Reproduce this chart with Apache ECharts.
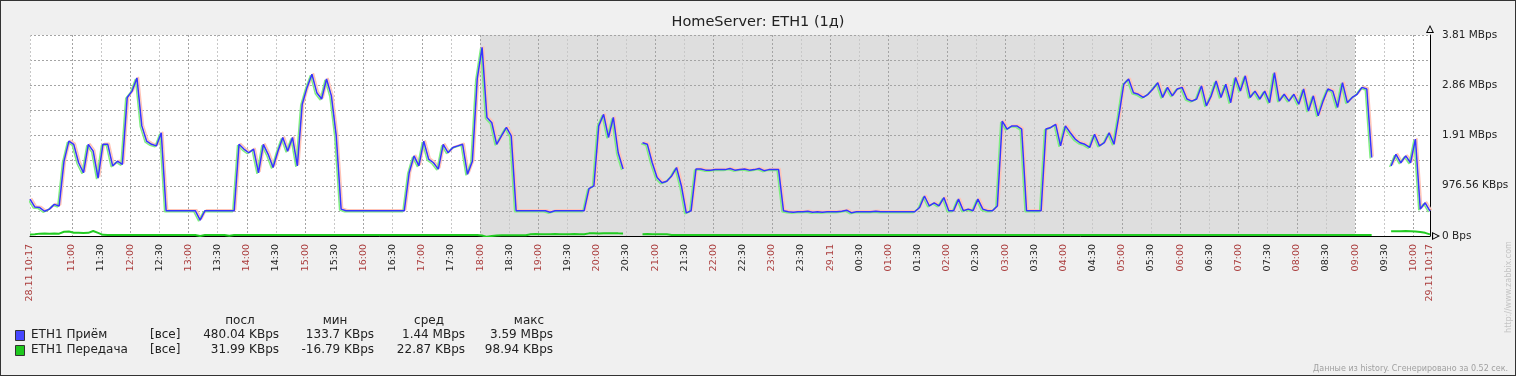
<!DOCTYPE html>
<html><head><meta charset="utf-8">
<script src="https://cdn.jsdelivr.net/npm/echarts@6/dist/echarts.min.js"></script>
<style>
html,body{margin:0;padding:0;background:#f0f0f0}
#c{width:1516px;height:376px;box-sizing:border-box;border:1px solid #333;background:#f0f0f0}
</style>
</head><body><div id="c"></div>
<script>
// ---------------- DATA ----------------
const chartTitle = 'HomeServer: ETH1 (1д)';
const START_MIN = 10 * 60 + 17;      // 28.11 10:17
const STEP_MIN = 5;                  // sample step, minutes
const xTickLabels = ['28.11 10:17','11:00','11:30','12:00','12:30','13:00','13:30','14:00','14:30','15:00','15:30',
  '16:00','16:30','17:00','17:30','18:00','18:30','19:00','19:30','20:00','20:30','21:00','21:30','22:00','22:30',
  '23:00','23:30','29.11','00:30','01:00','01:30','02:00','02:30','03:00','03:30','04:00','04:30','05:00','05:30',
  '06:00','06:30','07:00','07:30','08:00','08:30','09:00','09:30','10:00','29.11 10:17'];
const offHours = ['18:00', '09:00'];  // shaded (non-working) period
// ETH1 Приём, MBps
const rxMBps = [
  0.70,0.55,0.54,0.47,0.51,0.60,0.57,1.42,1.80,1.74,
  1.39,1.20,1.74,1.61,1.10,1.74,1.74,1.33,1.42,1.36,
  2.63,2.75,3.00,2.09,1.80,1.74,1.71,1.96,0.48,0.48,
  0.48,0.48,0.48,0.48,0.48,0.30,0.48,0.48,0.48,0.48,
  0.48,0.48,0.48,1.74,1.65,1.58,1.65,1.20,1.74,1.55,
  1.30,1.61,1.87,1.61,1.87,1.33,2.50,2.82,3.07,2.72,
  2.60,2.98,2.66,1.90,0.51,0.48,0.48,0.48,0.48,0.48,
  0.48,0.48,0.48,0.48,0.48,0.48,0.48,0.48,1.20,1.52,
  1.33,1.80,1.46,1.39,1.27,1.74,1.58,1.68,1.71,1.74,
  1.17,1.42,2.98,3.58,2.25,2.15,1.74,1.90,2.06,1.90,
  0.48,0.48,0.48,0.48,0.48,0.48,0.48,0.45,0.48,0.48,
  0.48,0.48,0.48,0.48,0.48,0.90,0.95,2.09,2.31,1.87,
  2.25,1.58,1.27,null,null,null,1.77,1.74,1.39,1.11,
  1.01,1.04,1.14,1.30,0.95,0.44,0.48,1.27,1.27,1.25,
  1.25,1.26,1.26,1.26,1.28,1.25,1.26,1.27,1.25,1.26,
  1.28,1.24,1.26,1.26,1.26,0.48,0.46,0.45,0.46,0.46,
  0.47,0.45,0.46,0.45,0.46,0.46,0.46,0.47,0.49,0.44,
  0.46,0.46,0.46,0.46,0.47,0.46,0.46,0.46,0.46,0.46,
  0.46,0.46,0.46,0.54,0.76,0.57,0.63,0.57,0.73,0.48,
  0.48,0.70,0.48,0.51,0.48,0.70,0.51,0.48,0.48,0.57,
  2.18,2.03,2.09,2.09,2.03,0.48,0.48,0.48,0.48,2.03,
  2.06,2.12,1.71,2.09,1.96,1.84,1.77,1.74,1.68,1.93,
  1.71,1.77,1.96,1.74,2.28,2.88,2.98,2.72,2.69,2.63,
  2.69,2.79,2.91,2.63,2.82,2.66,2.79,2.82,2.60,2.56,
  2.60,2.85,2.47,2.66,2.94,2.63,2.88,2.53,3.01,2.75,
  3.04,2.63,2.75,2.60,2.75,2.53,3.10,2.56,2.69,2.56,
  2.69,2.50,2.79,2.37,2.66,2.28,2.56,2.79,2.75,2.44,
  2.91,2.53,2.63,2.69,2.82,2.79,1.49,null,null,null,
  1.33,1.55,1.39,1.52,1.39,1.84,0.51,0.63,0.47
];
// ETH1 Передача, MBps
const txMBps = [
  0.030,0.032,0.045,0.046,0.044,0.047,0.045,0.080,0.085,0.060,0.062,0.058,0.060,0.095,0.060,
  0.022,0.021,0.020,0.020,0.019,0.020,0.021,0.020,0.020,0.019,
  0.020,0.021,0.020,0.020,0.019,0.020,0.020,0.021,0.020,0.020,
  0.002,0.020,0.021,0.020,0.019,0.020,0.005,0.020,0.020,0.021,
  0.020,0.019,0.020,0.020,0.021,0.020,0.020,0.019,0.020,0.020,
  0.021,0.020,0.020,0.019,0.020,0.020,0.021,0.020,0.020,0.019,
  0.020,0.020,0.021,0.020,0.020,0.019,0.020,0.020,0.021,0.020,
  0.020,0.019,0.020,0.020,0.021,0.020,0.020,0.019,0.020,0.020,
  0.021,0.020,0.020,0.019,0.020,0.020,0.021,0.020,
  0.008,-0.016,0.002,0.010,
  0.015,0.016,0.015,0.014,0.015,0.016,
  0.035,0.036,0.034,0.035,0.035,0.036,0.034,0.035,0.035,0.036,0.035,0.034,
  0.050,0.051,0.049,0.050,0.050,0.052,0.050,0.049,
  null,null,null,
  0.035,0.036,0.035,0.034,0.035,0.035,
  0.020,0.021,0.020,0.019,0.020,0.020,0.021,0.020,0.020,0.019,
  0.020,0.020,0.021,0.020,0.020,0.019,0.020,0.020,0.021,0.020,
  0.020,0.019,0.020,0.020,0.021,0.020,0.020,0.019,0.020,0.020,
  0.021,0.020,0.020,0.019,0.020,0.020,0.021,0.020,0.020,0.019,
  0.020,0.020,0.021,0.020,0.020,0.019,0.020,0.020,0.021,0.020,
  0.020,0.019,0.020,0.020,0.021,0.020,0.020,0.019,0.020,0.020,
  0.021,0.020,0.020,0.019,0.020,0.020,0.021,0.020,0.020,0.019,
  0.020,0.020,0.021,0.020,0.020,0.019,0.020,0.020,0.021,0.020,
  0.020,0.019,0.020,0.020,0.021,0.020,0.020,0.019,0.020,0.020,
  0.021,0.020,0.020,0.019,0.020,0.020,0.021,0.020,0.020,0.019,
  0.020,0.020,0.021,0.020,0.020,0.019,0.020,0.020,0.021,0.020,
  0.020,0.019,0.020,0.020,0.021,0.020,0.020,0.019,0.020,0.020,
  0.021,0.020,0.020,0.019,0.020,0.020,0.021,0.020,0.020,0.019,
  0.020,0.020,0.021,0.020,0.020,0.019,0.020,0.020,0.021,0.020,
  0.020,0.019,0.020,0.020,0.021,
  null,null,null,
  0.090,0.092,0.088,0.095,0.090,0.085,0.075,0.060,0.031
];
const legendNames = ['ETH1 Приём', 'ETH1 Передача'];
const legendFunc = ['[все]', '[все]'];
const legendHeaders = ['посл', 'мин', 'сред', 'макс'];
const legendValues = [
  ['480.04 KBps', '133.7 KBps', '1.44 MBps', '3.59 MBps'],
  ['31.99 KBps', '-16.79 KBps', '22.87 KBps', '98.94 KBps']
];
const footerText = 'Данные из history. Сгенерировано за 0.52 сек.';
const urlText = 'http://www.zabbix.com';

// ---------------- SETUP ----------------
const FONT = 'DejaVu Sans';
const Y_STEP = 500000 / 1048576;    // 488.28 KBps grid step
const Y_MAX = 8 * Y_STEP;           // 3.81 MBps
function hmToOffset(hm) {
  let m = parseInt(hm.slice(0, 2), 10) * 60 + parseInt(hm.slice(3, 5), 10) - START_MIN;
  if (m < 0) m += 1440;
  return m;
}
const tickPos = xTickLabels.map((l, i) => {
  if (i === xTickLabels.length - 1) return 1440;
  return hmToOffset(/\d\d:\d\d$/.test(l) ? l.slice(-5) : '00:00');
});
const labelAt = {};
tickPos.forEach((p, i) => { labelAt[p] = xTickLabels[i]; });
function isRedLabel(l) { return l.indexOf('.') >= 0 || /:00$/.test(l); }

const rxData = rxMBps.map((v, i) => [i * STEP_MIN, v]);
const txData = txMBps.map((v, i) => [i * STEP_MIN, v]);
const offStart = hmToOffset(offHours[0]);
const offEnd = hmToOffset(offHours[1]);

function fmtY(v) {
  const idx = Math.round(v / Y_STEP);
  if (idx % 2 !== 0) return '';
  if (Math.abs(v) < 1e-9) return '0 Bps';
  const k = v * 1024;
  if (k < 1023.995) return k.toFixed(2) + ' KBps';
  return v.toFixed(2) + ' MBps';
}
const arrowPath = 'path://M5,0 L10,10 L0,10 Z M5,2.6 L1.9,8.6 L8.1,8.6 Z';

const chart = echarts.init(document.getElementById('c'), null, { renderer: 'canvas' });
const O = -1; // border offset (page -> chart coords)

const graphics = [];
const rowY = [335, 350];
const colorsSq = ['#4646ff', '#1ec81e'];
const headerX = [240, 335, 429, 529];
const valueRight = [279, 374, 465, 553];
legendHeaders.forEach((h, i) => graphics.push({
  type: 'text', x: headerX[i] + O, y: 321 + O,
  style: { text: h, font: '12px "' + FONT + '"', fill: '#222', align: 'center', verticalAlign: 'middle' }
}));
legendNames.forEach((n, r) => {
  graphics.push({ type: 'rect', shape: { x: 15 + O + 0.5, y: rowY[r] - 5 + O + 0.5, width: 9, height: 10 },
    style: { fill: colorsSq[r], stroke: '#333', lineWidth: 1 } });
  graphics.push({ type: 'text', x: 31 + O, y: rowY[r] + O,
    style: { text: n, font: '12px "' + FONT + '"', fill: '#222', verticalAlign: 'middle' } });
  graphics.push({ type: 'text', x: 150 + O, y: rowY[r] + O,
    style: { text: legendFunc[r], font: '12px "' + FONT + '"', fill: '#222', verticalAlign: 'middle' } });
  legendValues[r].forEach((v, c) => graphics.push({ type: 'text', x: valueRight[c] + O, y: rowY[r] + O,
    style: { text: v, font: '12px "' + FONT + '"', fill: '#222', align: 'right', verticalAlign: 'middle' } }));
});
graphics.push({ type: 'text', x: 1508 + O, y: 369 + O,
  style: { text: footerText, font: '8px "' + FONT + '"', fill: '#a0a0a0', align: 'right', verticalAlign: 'middle' } });
graphics.push({ type: 'text', x: 1509 + O, y: 287 + O, rotation: Math.PI / 2,
  style: { text: urlText, font: '8px "' + FONT + '"', fill: '#c4c4c4', align: 'center', verticalAlign: 'middle' } });

chart.setOption({
  animation: false,
  backgroundColor: '#f0f0f0',
  textStyle: { fontFamily: FONT },
  title: { text: chartTitle, left: 'center', top: 10 + O,
    textStyle: { fontFamily: FONT, fontSize: 14.5, fontWeight: 'normal', color: '#222' } },
  grid: { left: 30 + O, top: 35 + O, width: 1400, height: 201, show: false },
  xAxis: {
    type: 'value', min: 0, max: 1440, position: 'bottom', z: 0,
    axisLine: { show: true, onZero: false, lineStyle: { color: '#000', width: 1 }, symbol: ['none', arrowPath], symbolSize: [8, 8], symbolOffset: [0, 6] },
    axisTick: { show: false, customValues: tickPos },
    axisLabel: {
      customValues: tickPos, rotate: 90, margin: 8, fontSize: 9.5, fontFamily: FONT,
      showMinLabel: true, showMaxLabel: true, hideOverlap: false,
      formatter: v => labelAt[Math.round(v)] || '',
      color: v => isRedLabel(labelAt[Math.round(Number(v))] || '') ? '#aa3c3c' : '#222'
    },
    splitLine: { show: true, lineStyle: { color: ['#c8c8c8', '#a4a4a4'], type: [2, 2], width: 1 } }
  },
  yAxis: {
    type: 'value', position: 'right', min: 0, max: Y_MAX, interval: Y_STEP, z: 0,
    axisLine: { show: true, onZero: false, lineStyle: { color: '#000', width: 1 }, symbol: ['none', arrowPath], symbolSize: [8, 8], symbolOffset: [0, 6] },
    axisTick: { show: false },
    axisLabel: { margin: 12, fontSize: 10.5, fontFamily: FONT, color: '#222', formatter: fmtY },
    splitLine: { show: true, lineStyle: { color: '#a4a4a4', type: [2, 2], width: 1 } }
  },
  graphic: graphics,
  series: [
    {
      name: 'bg', type: 'line', data: rxData, z: -1, silent: true, symbol: 'none',
      lineStyle: { opacity: 0 },
      markArea: {
        z: -1, silent: true,
        data: [
          [{ xAxis: 0, itemStyle: { color: '#ffffff' } }, { xAxis: offStart }],
          [{ xAxis: offStart, itemStyle: { color: '#dedede' } }, { xAxis: offEnd }],
          [{ xAxis: offEnd, itemStyle: { color: '#ffffff' } }, { xAxis: 1440 }]
        ]
      }
    },
    {
      name: 'rx-max', type: 'line', data: rxData, symbol: 'none', z: 2, silent: true,
      lineStyle: { color: '#ffc4b6', width: 1.5, shadowColor: '#ffc4b6', shadowBlur: 0, shadowOffsetX: 1.5, shadowOffsetY: -1 }
    },
    {
      name: legendNames[1], type: 'line', data: txData, symbol: 'none', z: 3,
      lineStyle: { color: '#22cc22', width: 2 }
    },
    {
      name: legendNames[0], type: 'line', data: rxData, symbol: 'none', z: 4,
      lineStyle: { color: '#3535ff', width: 1.5, shadowColor: '#80ee80', shadowBlur: 0, shadowOffsetX: -1.5, shadowOffsetY: 1 }
    }
  ]
});
</script></body></html>
